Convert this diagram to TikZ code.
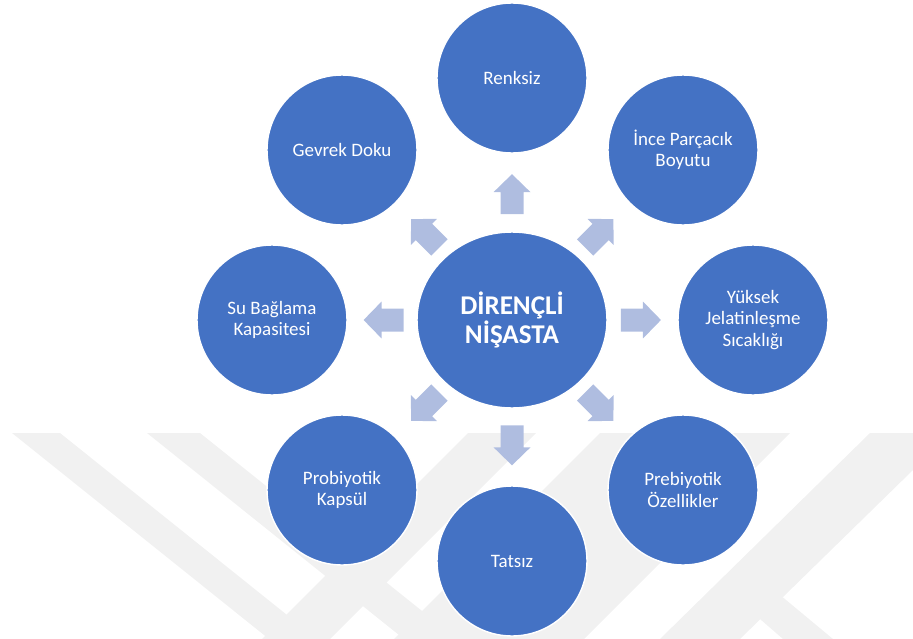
\documentclass[tikz,border=0pt]{standalone}
\usepackage{fontspec}
\setmainfont{Carlito}
\usetikzlibrary{shapes.geometric,calc}
\definecolor{diskblue}{HTML}{4472C4}
\definecolor{arrowblue}{HTML}{AFBDE0}
\definecolor{markgray}{HTML}{F1F1F1}

\tikzset{
    blockarrow/.pic={
        \fill[arrowblue] (-0.4cm,-0.23cm) -- (0.04cm,-0.23cm) -- (0.04cm,-0.37cm) -- (0.4cm,0cm)
            -- (0.04cm,0.37cm) -- (0.04cm,0.23cm) -- (-0.4cm,0.23cm) -- cycle;
    }
}

\begin{document}
\begin{tikzpicture}[x=0.02cm, y=-0.02cm,
    disk/.style={circle, draw=white, line width=0.8pt, fill=diskblue, text=white, minimum size=3cm, inner sep=0pt, align=center, font=\fontsize{10.8}{12}\selectfont},
    hub/.style={ellipse, draw=white, line width=0.8pt, fill=diskblue, text=white, minimum width=3.8cm, minimum height=3.52cm, inner sep=0pt, align=center, font=\fontsize{15.4}{17}\selectfont\bfseries}]
            \useasboundingbox (0,0) rectangle (913,639);

            % Watermark bands (background)
            \fill[markgray] (12,433) -- (60,433) -- (317,639) -- (269,639) -- cycle;
            \fill[markgray] (147,433) -- (200,433) -- (457,639) -- (404,639) -- cycle;
            \fill[markgray] (468,433) -- (536,433) -- (330,639) -- (262,639) -- cycle;
            \fill[markgray] (600,433) -- (790,433) -- (584,639) -- (394,639) -- cycle;
            \fill[markgray] (870,433) -- (913,433) -- (913,470) -- (740,639) -- (660,639) -- cycle;
            \fill[markgray] (745,606) -- (768,585) -- (833,639) -- (783,639) -- cycle;

            % Central node
            \node[hub] (hub) at (512,320) {DİRENÇLİ\\NİŞASTA};

            % Outer properties
            \node[disk] (renksiz) at (512,78) {Renksiz};
            \node[disk] (ince) at (683,150) {İnce Parçacık\\Boyutu};
            \node[disk] (yuksek) at (753,320) {Yüksek\\Jelatinleşme\\Sıcaklığı};
            \node[disk] (prebiyotik) at (683,490) {Prebiyotik\\Özellikler};
            \node[disk] (tatsiz) at (512,561) {Tatsız};
            \node[disk] (probiyotik) at (342,490) {Probiyotik\\Kapsül};
            \node[disk] (su) at (272,320) {Su Bağlama\\Kapasitesi};
            \node[disk] (gevrek) at (342,150) {Gevrek Doku};

            % Block arrows from the centre outwards
            \pic[rotate=90] at ($(hub)!0.52!(renksiz)$) {blockarrow};
            \pic[rotate=45] at ($(hub)!0.51!(ince)$) {blockarrow};
            \pic[rotate=0] at ($(hub)!0.535!(yuksek)$) {blockarrow};
            \pic[rotate=-45] at ($(hub)!0.51!(prebiyotik)$) {blockarrow};
            \pic[rotate=-90] at ($(hub)!0.52!(tatsiz)$) {blockarrow};
            \pic[rotate=-135] at ($(hub)!0.51!(probiyotik)$) {blockarrow};
            \pic[rotate=180] at ($(hub)!0.535!(su)$) {blockarrow};
            \pic[rotate=135] at ($(hub)!0.51!(gevrek)$) {blockarrow};
\end{tikzpicture}
\end{document}
